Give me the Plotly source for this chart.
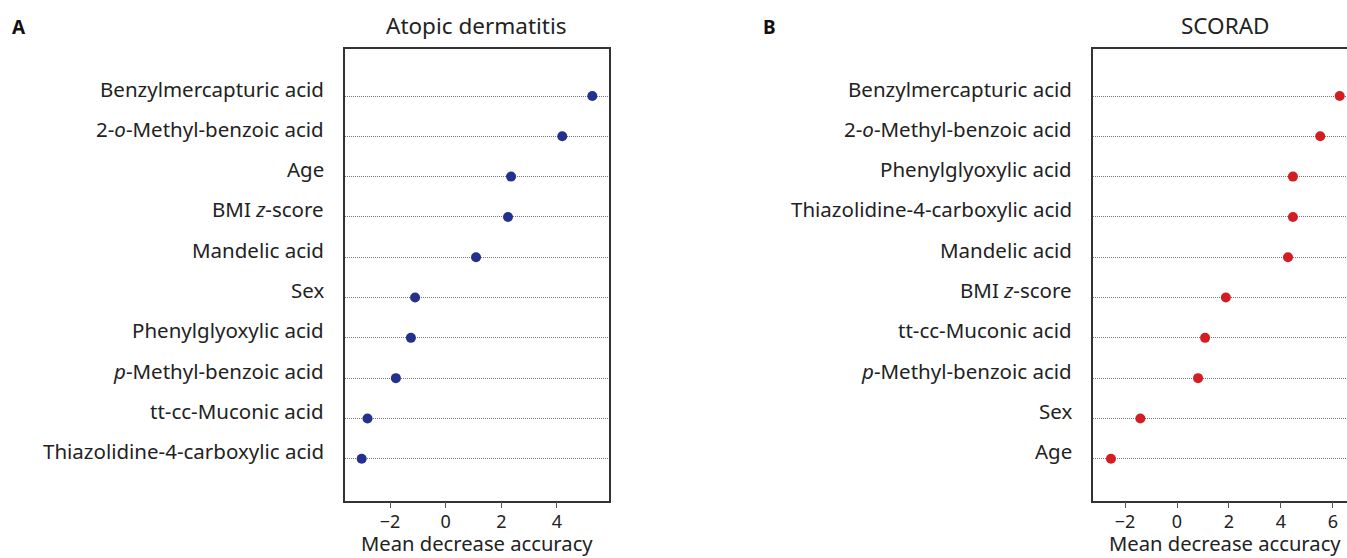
import plotly.graph_objects as go

# Panel A: Atopic dermatitis (top to bottom)
labels_a = ["Benzylmercapturic acid", "2-<i>o</i>-Methyl-benzoic acid", "Age", "BMI <i>z</i>-score",
            "Mandelic acid", "Sex", "Phenylglyoxylic acid", "<i>p</i>-Methyl-benzoic acid",
            "tt-cc-Muconic acid", "Thiazolidine-4-carboxylic acid"]
values_a = [5.27, 4.19, 2.35, 2.24, 1.09, -1.10, -1.25, -1.79, -2.81, -3.02]

# Panel B: SCORAD (top to bottom)
labels_b = ["Benzylmercapturic acid", "2-<i>o</i>-Methyl-benzoic acid", "Phenylglyoxylic acid",
            "Thiazolidine-4-carboxylic acid", "Mandelic acid", "BMI <i>z</i>-score",
            "tt-cc-Muconic acid", "<i>p</i>-Methyl-benzoic acid", "Sex", "Age"]
values_b = [6.26, 5.51, 4.46, 4.46, 4.27, 1.88, 1.08, 0.81, -1.41, -2.54]

ticks_a = [-2, 0, 2, 4]
ticks_b = [-2, 0, 2, 4, 6]

W, H = 1347, 558
FONT = "Noto Sans"
TXT = "#222222"

n = len(labels_a)
rows = list(range(n, 0, -1))

fig = go.Figure()
fig.add_trace(go.Scatter(x=values_a, y=rows, mode="markers", xaxis="x", yaxis="y",
                         marker=dict(size=10, color="#24318c", line=dict(width=0)),
                         showlegend=False, cliponaxis=False))
fig.add_trace(go.Scatter(x=values_b, y=rows, mode="markers", xaxis="x2", yaxis="y2",
                         marker=dict(size=10, color="#d41c23", line=dict(width=0)),
                         showlegend=False, cliponaxis=False))

xa0, xa1 = 344.7 / W, 609 / W
xb0, xb1 = 1093.3 / W, 1.0
ydom = [1 - 500.7 / H, 1 - 49 / H]

axis_common = dict(showline=True, linecolor="#333333", linewidth=1.5, ticks="outside",
                   ticklen=6, tickcolor="#555555", tickwidth=1, showgrid=False, zeroline=False,
                   ticklabelstandoff=-2,
                   tickfont=dict(family=FONT, size=18, color=TXT))
yaxis_common = dict(showline=True, linecolor="#333333", linewidth=1.5, range=[-0.04, 11.166],
                    tickvals=rows, showticklabels=False, ticks="", showgrid=True,
                    gridcolor="#777777", gridwidth=1, griddash="1px,1px", zeroline=False)

fig.update_layout(
    width=W, height=H, autosize=False,
    margin=dict(l=0, r=0, t=0, b=0),
    paper_bgcolor="white", plot_bgcolor="white",
    font=dict(family=FONT, color=TXT),
    xaxis=dict(domain=[xa0, xa1], anchor="y", range=[-3.63, 5.87], tickvals=ticks_a,
               mirror=True, **axis_common),
    yaxis=dict(domain=ydom, anchor="x", mirror=True, **yaxis_common),
    xaxis2=dict(domain=[xb0, xb1], anchor="y2", range=[-3.22, 6.54], tickvals=ticks_b,
                mirror=True, **axis_common),
    yaxis2=dict(domain=ydom, anchor="x2", mirror=False, **yaxis_common),
)

LAB = 20.5
ann = []
for lab, r in zip(labels_a, rows):
    ann.append(dict(text=lab, xref="paper", yref="y", x=xa0, y=r, xanchor="right",
                    yanchor="middle", xshift=-19, yshift=7.5, showarrow=False,
                    font=dict(family=FONT, size=LAB, color=TXT)))
for lab, r in zip(labels_b, rows):
    ann.append(dict(text=lab, xref="paper", yref="y2", x=xb0, y=r, xanchor="right",
                    yanchor="middle", xshift=-19, yshift=7.5, showarrow=False,
                    font=dict(family=FONT, size=LAB, color=TXT)))
# titles
ann.append(dict(text="Atopic dermatitis", xref="paper", yref="paper", x=(xa0 + xa1) / 2,
                y=1 - 26 / H, xanchor="center", yanchor="middle", showarrow=False,
                font=dict(family=FONT, size=22.5, color=TXT)))
ann.append(dict(text="SCORAD", xref="paper", yref="paper", x=1225 / W,
                y=1 - 26 / H, xanchor="center", yanchor="middle", showarrow=False,
                font=dict(family=FONT, size=22.5, color=TXT)))
# axis titles
for cx in [(xa0 + xa1) / 2, 1225 / W]:
    ann.append(dict(text="Mean decrease accuracy", xref="paper", yref="paper", x=cx,
                    y=0, xanchor="center", yanchor="bottom", showarrow=False, borderpad=0,
                    font=dict(family=FONT, size=20.2, color=TXT)))
# panel letters
ann.append(dict(text="<b>A</b>", xref="paper", yref="paper", x=10 / W, y=1 - 27 / H,
                xanchor="left", yanchor="middle", showarrow=False,
                font=dict(family=FONT, size=19, color="#111111")))
ann.append(dict(text="<b>B</b>", xref="paper", yref="paper", x=761 / W, y=1 - 27 / H,
                xanchor="left", yanchor="middle", showarrow=False,
                font=dict(family=FONT, size=19, color="#111111")))
fig.update_layout(annotations=ann)

fig.write_html("out.html", config={"displayModeBar": False},
               post_script="document.body.style.margin='0';document.body.style.overflow='hidden';")
